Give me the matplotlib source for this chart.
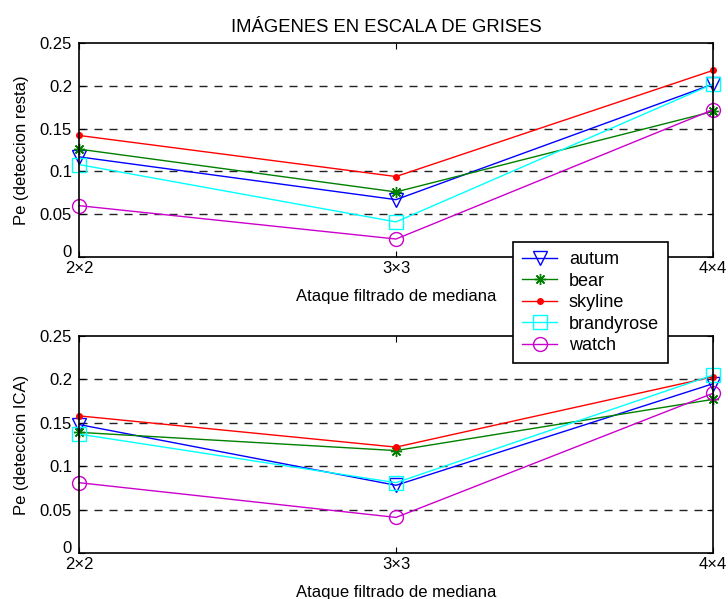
import numpy as np
import matplotlib.pyplot as plt
import matplotlib.transforms as mtransforms

plt.rcParams['font.family'] = ['Liberation Sans', 'DejaVu Sans']

x_labels = ['2×2', '3×3', '4×4']
series = ['autum', 'bear', 'skyline', 'brandyrose', 'watch']

# Pe (deteccion resta)
resta = {
    'autum':      [0.117, 0.067, 0.202],
    'bear':       [0.126, 0.076, 0.170],
    'skyline':    [0.142, 0.094, 0.218],
    'brandyrose': [0.108, 0.041, 0.202],
    'watch':      [0.060, 0.021, 0.172],
}
# Pe (deteccion ICA)
ica = {
    'autum':      [0.148, 0.078, 0.195],
    'bear':       [0.139, 0.118, 0.177],
    'skyline':    [0.158, 0.122, 0.203],
    'brandyrose': [0.137, 0.081, 0.205],
    'watch':      [0.081, 0.041, 0.184],
}

styles = {
    'autum':      dict(color='#0000ff', marker='v', ms=10, mfc='none'),
    'bear':       dict(color='#008000', marker=(8, 2, 0), ms=8),
    'skyline':    dict(color='#ff0000', marker='o', ms=4, mfc='#ff0000'),
    'brandyrose': dict(color='#00ffff', marker='s', ms=10, mfc='none'),
    'watch':      dict(color='#cc00cc', marker='o', ms=10, mfc='none'),
}

fig = plt.figure(figsize=(7.28, 5.99), dpi=100)
ax1 = fig.add_axes([79/728, 1-257/599, 634/728, 214/599])
ax2 = fig.add_axes([79/728, 1-553/599, 634/728, 217/599])

xs = np.arange(len(x_labels))


def format_axes(ax, ylabel):
    ax.set_xlim(0, 2)
    ax.set_ylim(0, 0.25)
    ax.set_xticks(xs)
    ax.set_xticklabels(x_labels)
    ax.set_yticks([0, 0.05, 0.1, 0.15, 0.2, 0.25])
    ax.set_yticklabels(['0', '0.05', '0.1', '0.15', '0.2', '0.25'])
    for yv in [0.05, 0.1, 0.15, 0.2]:
        ax.axhline(yv, color='#222222', lw=1.0, ls=(0, (5.8, 5)), zorder=0)
    ax.tick_params(direction='in', length=4, width=0.8, top=True, right=True,
                   labelsize=12)
    ax.tick_params(axis='y', pad=5)
    ax.tick_params(axis='x', pad=3)
    for s in ax.spines.values():
        s.set_linewidth(1.2)
    ax.set_ylabel(ylabel, fontsize=12, labelpad=8)
    ax.set_xlabel('Ataque filtrado de mediana', fontsize=12, labelpad=9)
    # the "0" label sits a little above the axis, as in the original
    lab0 = ax.get_yticklabels()[0]
    lab0.set_transform(lab0.get_transform() +
                       mtransforms.ScaledTranslation(0, 4/72, fig.dpi_scale_trans))


handles = []
for ax, data in [(ax1, resta), (ax2, ica)]:
    for name in series:
        st = styles[name]
        ln, = ax.plot(xs, data[name], color=st['color'], marker=st['marker'],
                      markersize=st['ms'], mfc=st.get('mfc', st['color']),
                      mec=st['color'], mew=1.0, lw=1.0, label=name, clip_on=False)
        if ax is ax1:
            handles.append(ln)

format_axes(ax1, 'Pe (deteccion resta)')
format_axes(ax2, 'Pe (deteccion ICA)')
ax1.set_title('IMÁGENES EN ESCALA DE GRISES', fontsize=13.3, pad=8, x=0.484)

leg = fig.legend(handles=handles, loc='upper left',
                 bbox_to_anchor=(513/728, 1-242/599), fontsize=13,
                 frameon=True, fancybox=False, edgecolor='black',
                 framealpha=1, handlelength=1.95, labelspacing=0.25,
                 borderpad=0.5, handletextpad=0.65, borderaxespad=0)
leg.get_frame().set_linewidth(1.2)

fig.savefig('out.png', dpi=100)
